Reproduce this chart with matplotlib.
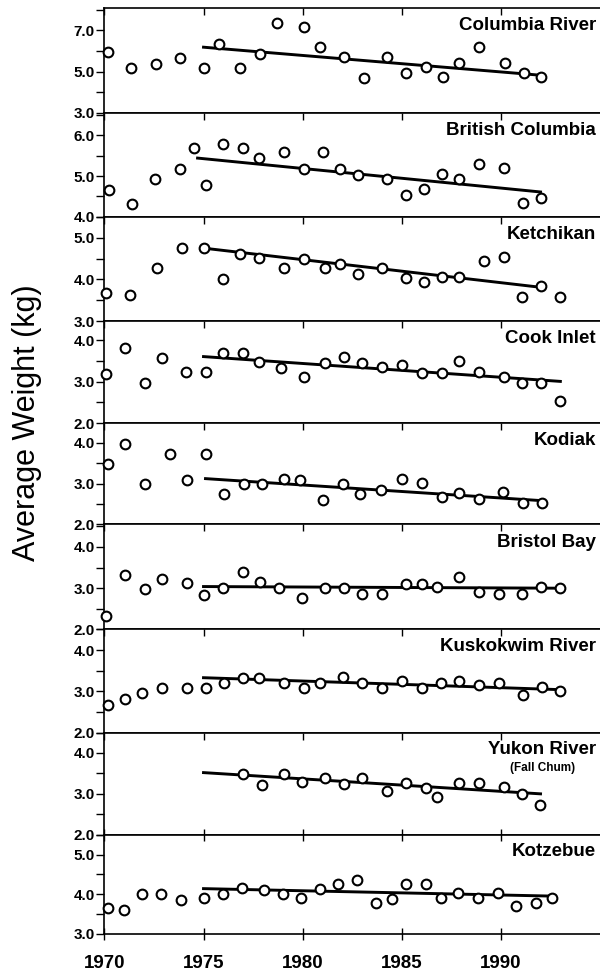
import numpy as np
import matplotlib
matplotlib.use("Agg")
import matplotlib.pyplot as plt

plt.rcParams['font.family'] = ['Liberation Sans', 'DejaVu Sans']

# --- data (year, average weight kg) ---
columbia_yr = [1970.2, 1971.35, 1972.6, 1973.8, 1975.0, 1975.8, 1976.85, 1977.85, 1978.7, 1980.05, 1980.9,
               1982.1, 1983.1, 1984.25, 1985.2, 1986.2, 1987.1, 1987.9, 1988.9, 1990.2, 1991.15, 1992.0]
columbia_wt = [5.93, 5.16, 5.36, 5.66, 5.16, 6.34, 5.16, 5.85, 7.33, 7.16, 6.18,
               5.69, 4.70, 5.69, 4.92, 5.20, 4.74, 5.43, 6.18, 5.43, 4.92, 4.75]
columbia_trend_yr = [1975.0, 1992.0]
columbia_trend_wt = [6.18, 4.82]

bc_yr = [1970.24, 1971.4, 1972.55, 1973.8, 1974.5, 1975.1, 1976.0, 1977.0, 1977.8, 1979.05, 1980.05, 1981.05,
         1981.9, 1982.8, 1984.25, 1985.2, 1986.1, 1987.05, 1987.9, 1988.9, 1990.15, 1991.1, 1992.0]
bc_wt = [4.67, 4.32, 4.92, 5.17, 5.68, 4.78, 5.79, 5.68, 5.43, 5.58, 5.18, 5.58,
         5.18, 5.03, 4.93, 4.54, 4.69, 5.04, 4.94, 5.30, 5.19, 4.34, 4.46]
bc_trend_yr = [1974.7, 1992.0]
bc_trend_wt = [5.44, 4.61]

ketchikan_yr = [1970.07, 1971.3, 1972.65, 1973.9, 1975.0, 1976.0, 1976.85, 1977.8, 1979.05, 1980.05, 1981.15, 1981.9,
                1982.8, 1984.0, 1985.2, 1986.1, 1987.05, 1987.9, 1989.15, 1990.15, 1991.05, 1992.0, 1993.0]
ketchikan_wt = [3.67, 3.63, 4.27, 4.76, 4.76, 4.02, 4.61, 4.51, 4.28, 4.49, 4.28, 4.38,
                4.14, 4.28, 4.04, 3.94, 4.06, 4.06, 4.45, 4.54, 3.58, 3.83, 3.58]
ketchikan_trend_yr = [1975.0, 1992.0]
ketchikan_trend_wt = [4.75, 3.81]

cook_yr = [1970.07, 1971.05, 1972.05, 1972.9, 1974.1, 1975.1, 1976.0, 1977.0, 1977.8, 1978.9, 1980.05, 1981.15,
           1982.1, 1983.0, 1984.0, 1985.0, 1986.0, 1987.05, 1987.9, 1988.9, 1990.15, 1991.05, 1992.0, 1993.0]
cook_wt = [3.19, 3.82, 2.98, 3.58, 3.23, 3.23, 3.69, 3.69, 3.49, 3.33, 3.12, 3.45,
           3.61, 3.45, 3.37, 3.41, 3.21, 3.21, 3.51, 3.23, 3.12, 2.97, 2.97, 2.54]
cook_trend_yr = [1975.0, 1993.0]
cook_trend_wt = [3.61, 3.01]

kodiak_yr = [1970.2, 1971.05, 1972.05, 1973.3, 1974.15, 1975.1, 1976.05, 1977.05, 1977.95, 1979.05, 1979.85, 1981.05,
             1982.05, 1982.9, 1983.95, 1985.0, 1986.0, 1987.05, 1987.9, 1988.9, 1990.1, 1991.1, 1992.05]
kodiak_wt = [3.47, 3.98, 2.98, 3.73, 3.08, 3.73, 2.74, 2.98, 2.98, 3.11, 3.09, 2.59,
             2.98, 2.74, 2.85, 3.11, 3.01, 2.66, 2.76, 2.62, 2.78, 2.52, 2.52]
kodiak_trend_yr = [1975.1, 1992.05]
kodiak_trend_wt = [3.12, 2.58]

bristol_yr = [1970.07, 1971.05, 1972.05, 1972.9, 1974.15, 1975.0, 1976.0, 1977.0, 1977.85, 1978.8, 1979.95, 1981.15,
              1982.1, 1983.0, 1984.0, 1985.2, 1986.0, 1986.8, 1987.9, 1988.9, 1989.9, 1991.05, 1992.0, 1993.0]
bristol_wt = [2.33, 3.33, 2.98, 3.23, 3.12, 2.84, 3.00, 3.39, 3.14, 3.00, 2.76, 3.00,
              3.00, 2.85, 2.85, 3.11, 3.11, 3.02, 3.26, 2.90, 2.86, 2.86, 3.03, 3.00]
bristol_trend_yr = [1975.0, 1993.0]
bristol_trend_wt = [3.04, 3.00]

kusko_yr = [1970.2, 1971.05, 1971.9, 1972.9, 1974.15, 1975.1, 1976.05, 1977.0, 1977.8, 1979.05, 1980.05, 1980.9,
            1982.05, 1983.0, 1984.0, 1985.0, 1986.0, 1987.0, 1987.9, 1988.9, 1989.9, 1991.1, 1992.05, 1993.0]
kusko_wt = [2.67, 2.82, 2.96, 3.07, 3.07, 3.07, 3.21, 3.33, 3.33, 3.21, 3.08, 3.21,
            3.35, 3.19, 3.08, 3.24, 3.08, 3.20, 3.24, 3.16, 3.21, 2.90, 3.11, 3.01]
kusko_trend_yr = [1975.0, 1993.0]
kusko_trend_wt = [3.33, 3.04]

yukon_yr = [1977.0, 1977.95, 1979.05, 1979.95, 1981.15, 1982.1, 1983.0, 1984.25,
            1985.2, 1986.2, 1986.8, 1987.9, 1988.9, 1990.15, 1991.05, 1991.95]
yukon_wt = [3.48, 3.22, 3.48, 3.28, 3.40, 3.24, 3.40, 3.06,
            3.26, 3.15, 2.92, 3.26, 3.26, 3.16, 3.00, 2.73]
yukon_trend_yr = [1975.0, 1992.0]
yukon_trend_wt = [3.52, 3.00]

kotzebue_yr = [1970.2, 1971.0, 1971.9, 1972.85, 1973.85, 1975.0, 1976.0, 1976.95, 1978.05, 1979.0, 1979.9, 1980.9, 1981.8,
               1982.75, 1983.7, 1984.5, 1985.2, 1986.2, 1987.0, 1987.85, 1988.85, 1989.85, 1990.75, 1991.75, 1992.6]
kotzebue_wt = [3.65, 3.60, 4.00, 4.00, 3.85, 3.91, 4.00, 4.15, 4.11, 4.00, 3.91, 4.12, 4.26,
               4.36, 3.77, 3.87, 4.26, 4.26, 3.91, 4.02, 3.91, 4.02, 3.69, 3.77, 3.90]
kotzebue_trend_yr = [1975.0, 1992.75]
kotzebue_trend_wt = [4.14, 3.95]

names = ['Columbia River', 'British Columbia', 'Ketchikan', 'Cook Inlet', 'Kodiak',
         'Bristol Bay', 'Kuskokwim River', 'Yukon River', 'Kotzebue']
years = [columbia_yr, bc_yr, ketchikan_yr, cook_yr, kodiak_yr, bristol_yr, kusko_yr, yukon_yr, kotzebue_yr]
weights = [columbia_wt, bc_wt, ketchikan_wt, cook_wt, kodiak_wt, bristol_wt, kusko_wt, yukon_wt, kotzebue_wt]
trend_yrs = [columbia_trend_yr, bc_trend_yr, ketchikan_trend_yr, cook_trend_yr, kodiak_trend_yr,
             bristol_trend_yr, kusko_trend_yr, yukon_trend_yr, kotzebue_trend_yr]
trend_wts = [columbia_trend_wt, bc_trend_wt, ketchikan_trend_wt, cook_trend_wt, kodiak_trend_wt,
             bristol_trend_wt, kusko_trend_wt, yukon_trend_wt, kotzebue_trend_wt]

# y range, labelled ticks, minor tick step for each panel
y_limits = [(3.0, 8.1), (4.0, 6.55), (3.0, 5.5), (2.0, 4.47), (2.0, 4.48),
            (2.0, 4.55), (2.0, 4.5), (2.0, 4.5), (3.0, 5.5)]
y_labels = [[3, 5, 7], [4, 5, 6], [3, 4, 5], [2, 3, 4], [2, 3, 4],
            [2, 3, 4], [2, 3, 4], [2, 3, 4], [3, 4, 5]]
y_step = [1.0, 0.5, 0.5, 0.5, 0.5, 0.5, 0.5, 0.5, 0.5]
x_ticks = [1970, 1975, 1980, 1985, 1990]

fig = plt.figure(figsize=(6.0, 9.76), dpi=100)
heights = [105, 104, 104, 102, 101, 105, 103, 102, 99]
gs = fig.add_gridspec(9, 1, left=0.174, right=1.0, top=0.9922, bottom=0.0432,
                      hspace=0, height_ratios=heights)

for i in range(9):
    ax = fig.add_subplot(gs[i])
    ax.plot(trend_yrs[i], trend_wts[i], color='black', lw=2.1, zorder=2)
    ax.plot(years[i], weights[i], 'o', ms=7, mfc='white', mec='black', mew=1.5,
            clip_on=False, zorder=5)
    ax.set_xlim(1970, 1995)
    ax.set_ylim(*y_limits[i])

    lo, hi = y_limits[i]
    yt = np.arange(lo, hi + 1e-6, y_step[i])
    ax.set_yticks(yt)
    ax.set_yticklabels(['%.1f' % v if any(abs(v - l) < 1e-6 for l in y_labels[i]) else '' for v in yt],
                       fontsize=11, fontweight='bold')
    ax.tick_params(axis='y', direction='out', length=5.5, width=1.0, pad=1.5)

    ax.set_xticks(x_ticks)
    last = (i == 8)
    ax.tick_params(axis='x', which='both', top=True, bottom=last, direction='in',
                   length=5, width=1.0, labelbottom=last, labeltop=False)
    if last:
        ax.tick_params(axis='x', bottom=True, direction='inout', length=8, pad=11)
        ax.set_xticklabels([str(x) for x in x_ticks], fontsize=13.5, fontweight='bold')

    ax.spines['right'].set_visible(False)
    for s in ['left', 'top', 'bottom']:
        ax.spines[s].set_linewidth(1.2)

    ax.text(0.992, 0.83, names[i], transform=ax.transAxes, ha='right', va='center',
            fontsize=13.5, fontweight='bold')
    if names[i] == 'Yukon River':
        ax.text(0.885, 0.65, '(Fall Chum)', transform=ax.transAxes, ha='center', va='center',
                fontsize=8.5, fontweight='bold')

fig.text(0.045, 0.567, 'Average Weight (kg)', rotation=90, ha='center', va='center', fontsize=22)

fig.savefig('out.png', dpi=100)
